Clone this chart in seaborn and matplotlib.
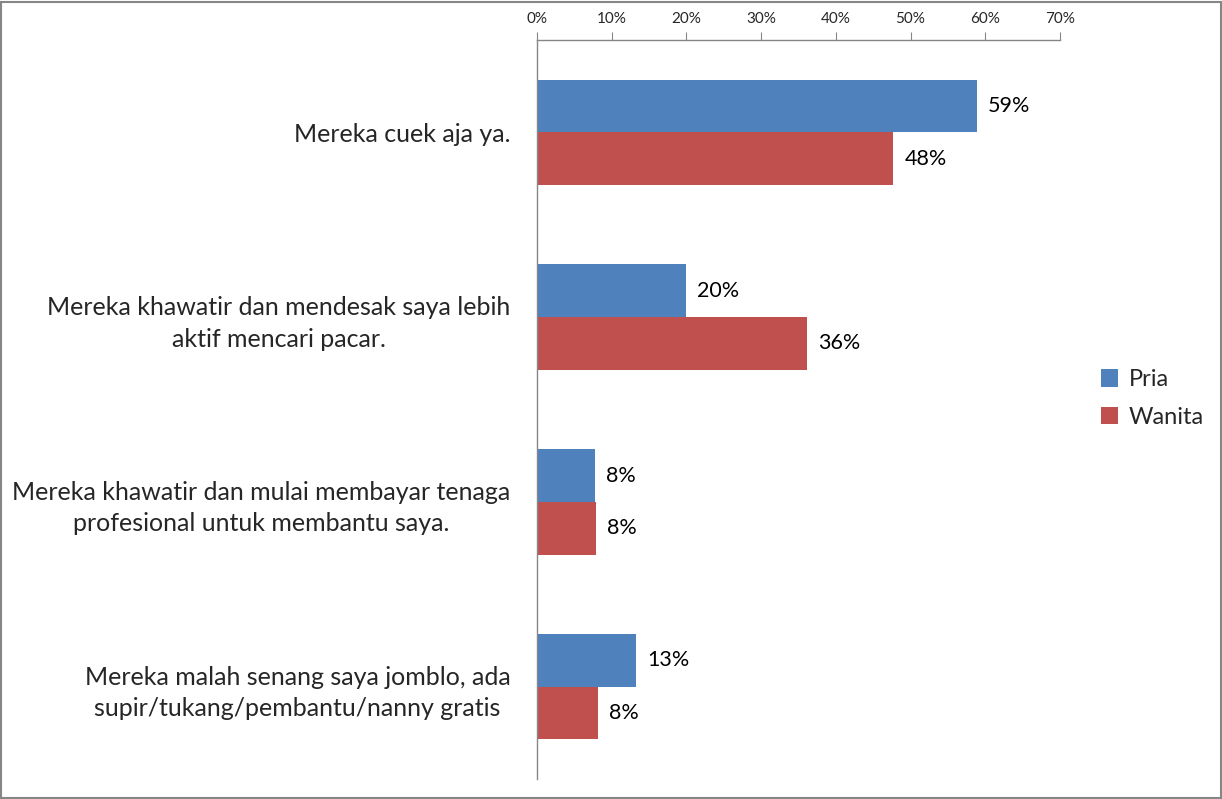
import matplotlib
matplotlib.use("Agg")
import matplotlib.pyplot as plt
import seaborn as sns
import pandas as pd
import numpy as np
from matplotlib.patches import Rectangle
from matplotlib.ticker import PercentFormatter

categories = [
    "Mereka cuek aja ya.",
    "Mereka khawatir dan mendesak saya lebih\naktif mencari pacar.",
    "Mereka khawatir dan mulai membayar tenaga\nprofesional untuk membantu saya.",
    "Mereka malah senang saya jomblo, ada\nsupir/tukang/pembantu/nanny gratis",
]
series = ["Pria", "Wanita"]
pria = [0.589, 0.199, 0.078, 0.133]
wanita = [0.477, 0.361, 0.079, 0.082]
xticks = [0, 0.1, 0.2, 0.3, 0.4, 0.5, 0.6, 0.7]
colors = ["#4F81BD", "#C0504D"]

df = pd.DataFrame({
    "kategori": categories * 2,
    "gender": ["Pria"] * 4 + ["Wanita"] * 4,
    "nilai": pria + wanita,
})

sns.set_style("white")
plt.rcParams["font.family"] = ["Lato", "DejaVu Sans"]

fig = plt.figure(figsize=(12.22, 7.99), dpi=100)
ax = fig.add_axes([0.4394, 0.025, 0.428, 0.925])

sns.barplot(data=df, y="kategori", x="nilai", hue="gender", orient="h",
            palette=colors, width=0.57, saturation=1, linewidth=0, ax=ax, legend=True)

# data labels
for cont in ax.containers:
    ax.bar_label(cont, labels=[f"{v * 100:.0f}%" for v in cont.datavalues],
                 padding=8, fontsize=15.5, color="black")

ax.set_xlim(0, 0.7)
ax.set_ylim(3.5, -0.5)
ax.set_xticks(xticks)
ax.xaxis.set_major_formatter(PercentFormatter(1.0, decimals=0))
ax.xaxis.tick_top()
ax.tick_params(axis="x", direction="out", length=6, color="#868686",
               labelsize=11, pad=4, top=True, bottom=False)

# category boundary ticks, labels in the middle
ax.set_yticks(np.arange(-0.5, 4, 1))
ax.set_yticklabels([])
ax.set_yticks(np.arange(4), minor=True)
ax.set_yticklabels(categories, minor=True, fontsize=18, multialignment="center",
                   linespacing=1.45)
ax.tick_params(axis="y", which="major", direction="out", length=6, color="#868686")
ax.tick_params(axis="y", which="minor", length=0, pad=19)
ax.set_xlabel("")
ax.set_ylabel("")

for side in ["right", "bottom"]:
    ax.spines[side].set_visible(False)
for side in ["top", "left"]:
    ax.spines[side].set_color("#868686")
    ax.spines[side].set_linewidth(1)

ax.legend(loc="center left", bbox_to_anchor=(1.037, 0.515), frameon=False,
          fontsize=17, handlelength=0.75, handleheight=0.75, handletextpad=0.45,
          labelspacing=0.7, title=None)

fig.patches.append(Rectangle((0.0008, 0.001), 0.998, 0.997, transform=fig.transFigure,
                             fill=False, edgecolor="#868686", linewidth=1.5))

fig.savefig("out.png", dpi=100)
